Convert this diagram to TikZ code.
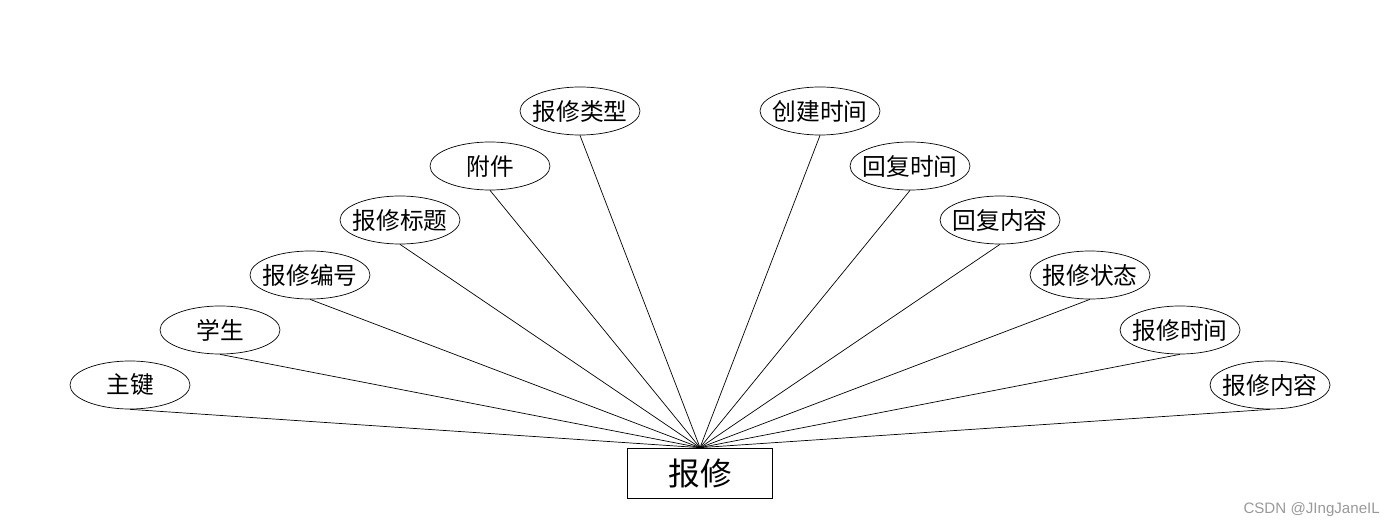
\documentclass[tikz,border=0pt]{standalone}
\usepackage{fontspec}
\setmainfont{Noto Sans CJK SC}
\newfontfamily\markfont{Liberation Sans}
\usepackage{tikz}
\usetikzlibrary{shapes.geometric}

\begin{document}
\begin{tikzpicture}[
  entity/.style={
    draw,
    rectangle,
    minimum width=2.9cm,
    minimum height=1cm,
    inner sep=0pt,
    font=\fontsize{18pt}{20pt}\selectfont
  },
  attr/.style={
    draw,
    ellipse,
    inner xsep=-0.4cm,
    inner ysep=0pt,
    minimum width=2.4cm,
    minimum height=0.96cm,
    font=\fontsize{13.5pt}{15pt}\selectfont
  },
  link/.style={thin}
]
  \useasboundingbox (0,0) rectangle (28,10.56);

  \node[entity] (repair) at (14,1.1) {报修};

  \node[attr] (key) at (2.6,2.86) {主键};
  \node[attr] (student) at (4.4,3.96) {学生};
  \node[attr] (number) at (6.2,5.06) {报修编号};
  \node[attr] (title) at (8.0,6.16) {报修标题};
  \node[attr] (attach) at (9.8,7.24) {附件};
  \node[attr] (type) at (11.6,8.34) {报修类型};
  \node[attr] (created) at (16.4,8.34) {创建时间};
  \node[attr] (replytime) at (18.2,7.24) {回复时间};
  \node[attr] (reply) at (20.0,6.16) {回复内容};
  \node[attr] (state) at (21.8,5.06) {报修状态};
  \node[attr] (time) at (23.6,3.96) {报修时间};
  \node[attr] (content) at (25.4,2.86) {报修内容};

  \draw[link] (key.south) -- (repair.north);
  \draw[link] (student.south) -- (repair.north);
  \draw[link] (number.south) -- (repair.north);
  \draw[link] (title.south) -- (repair.north);
  \draw[link] (attach.south) -- (repair.north);
  \draw[link] (type.south) -- (repair.north);
  \draw[link] (created.south) -- (repair.north);
  \draw[link] (replytime.south) -- (repair.north);
  \draw[link] (reply.south) -- (repair.north);
  \draw[link] (state.south) -- (repair.north);
  \draw[link] (time.south) -- (repair.north);
  \draw[link] (content.south) -- (repair.north);

  \node[font=\markfont\fontsize{8.6pt}{10pt}\selectfont, text=black!40, anchor=east] (mark) at (27.72,0.36) {CSDN @JIngJaneIL};
\end{tikzpicture}
\end{document}
